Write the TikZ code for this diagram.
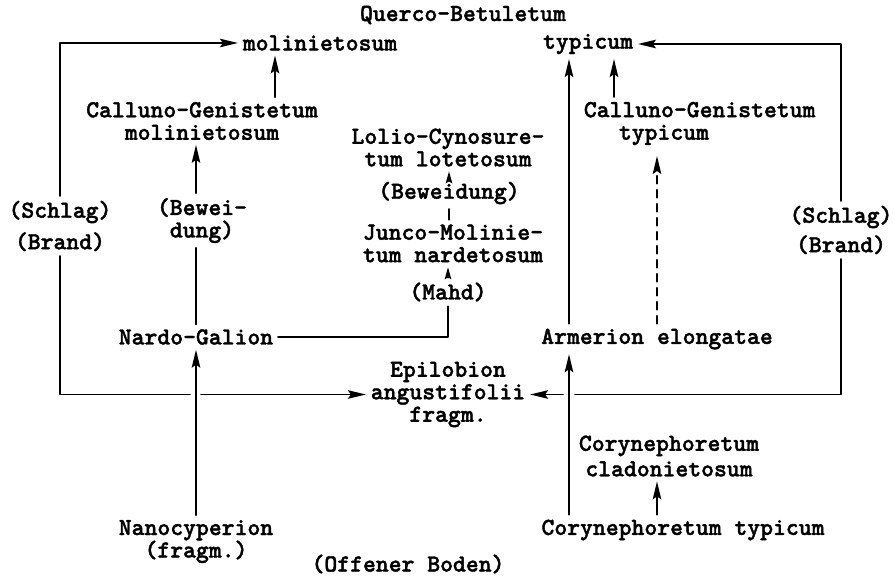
\documentclass[tikz,border=0pt]{standalone}
\usepackage{fontspec}
\newfontfamily\schreibm{lmmonolt10-bold.otf}[FakeBold=1.6]
\usetikzlibrary{arrows.meta}
\begin{document}
\begin{tikzpicture}[line join=round, line cap=round, >={Stealth[length=18pt,width=8.5pt,inset=3pt]}, line width=1.8pt, x=1pt, y=-1pt,
            every node/.style={font=\fontsize{24.5}{22.5}\selectfont\schreibm, align=center, inner sep=4pt},
            kurz/.style={-{Stealth[length=12pt,width=6.5pt,inset=2pt]}}
            ]
            \useasboundingbox (0,0) rectangle (894,578);
            \node (querco) at (463,15) {Querco-Betuletum};
            \node (molin) at (320,43) {molinietosum};
            \node (typ) at (588,44) {typicum};
            \node (cgmol) at (202,121) {Calluno-Genistetum\\molinietosum};
            \node[anchor=west, align=left] (cgtyp) at (579,123.5) {Calluno-Genistetum\\\hspace*{35pt}typicum};
            \node (lolio) at (448,147.5) {Lolio-Cynosure-\\tum lotetosum};
            \node (bewM) at (449,193) {(Beweidung)};
            \node (junco) at (453,243.5) {Junco-Molinie-\\tum nardetosum};
            \node (mahd) at (448,292) {(Mahd)};
            \node (bewL) at (202,220.5) {(Bewei-\\dung)};
            \node (schlagL) at (60,226) {(Schlag)\\[9pt](Brand)};
            \node (schlagR) at (841,230) {(Schlag)\\[7pt](Brand)};
            \node (nardo) at (196,337) {Nardo-Galion};
            \node (arm) at (657,339) {Armerion elongatae};
            \node (epi) at (448,394.5) {Epilobion\\angustifolii\\fragm.};
            \node (coryC) at (669,456) {Corynephoretum\\[3pt]cladonietosum};
            \node (coryT) at (683,530) {Corynephoretum typicum};
            \node (nano) at (196,541.5) {Nanocyperion\\(fragm.)};
            \node (boden) at (408,564) {(Offener Boden)};
            %Spalten der Pfeile
            \path
            (275,0) coordinate (xM)
            (569,0) coordinate (xA)
            (657,0) coordinate (xB)
            (614,0) coordinate (xC)
            (nano.north |- epi.west) coordinate (crossL)
            (xA |- epi.east) coordinate (crossR);
            \draw[->] (schlagL.north) |- (molin.west);
            \draw (schlagL.south) |- ([xshift=-6pt]crossL);
            \draw[->] ([xshift=5pt]crossL) -- (epi.west);
            \draw[->] (schlagR.north) |- (typ.east);
            \draw (schlagR.south) |- ([xshift=6pt]crossR);
            \draw[->] ([xshift=-6pt]crossR) -- (epi.east);
            \draw[->] (nano.north) -- (nardo.south);
            \draw (nardo.north) -- (nardo.north |- bewL.south);
            \draw[->] (nardo.north |- bewL.north) -- (nardo.north |- cgmol.south);
            \draw[->] (cgmol.north -| xM) -- (molin.south -| xM);
            \draw (nardo.east) -| (mahd.south);
            \draw[kurz] (mahd.north) -- (mahd.north |- junco.south);
            \draw (junco.north -| bewM.south) -- (bewM.south);
            \draw[kurz] (bewM.north) -- (bewM.north |- lolio.south);
            \draw[->] (coryT.north -| xA) -- (arm.south -| xA);
            \draw[->] (arm.north -| xA) -- (typ.south -| xA);
            \draw[->] (coryT.north -| xB) -- (coryC.south -| xB);
            \draw[->, dash pattern=on 8pt off 6pt, shorten >=6pt] (arm.north -| xB) -- (cgtyp.south -| xB);
            \draw[->] (cgtyp.north -| xC) -- (typ.south -| xC);
        \end{tikzpicture}
\end{document}
